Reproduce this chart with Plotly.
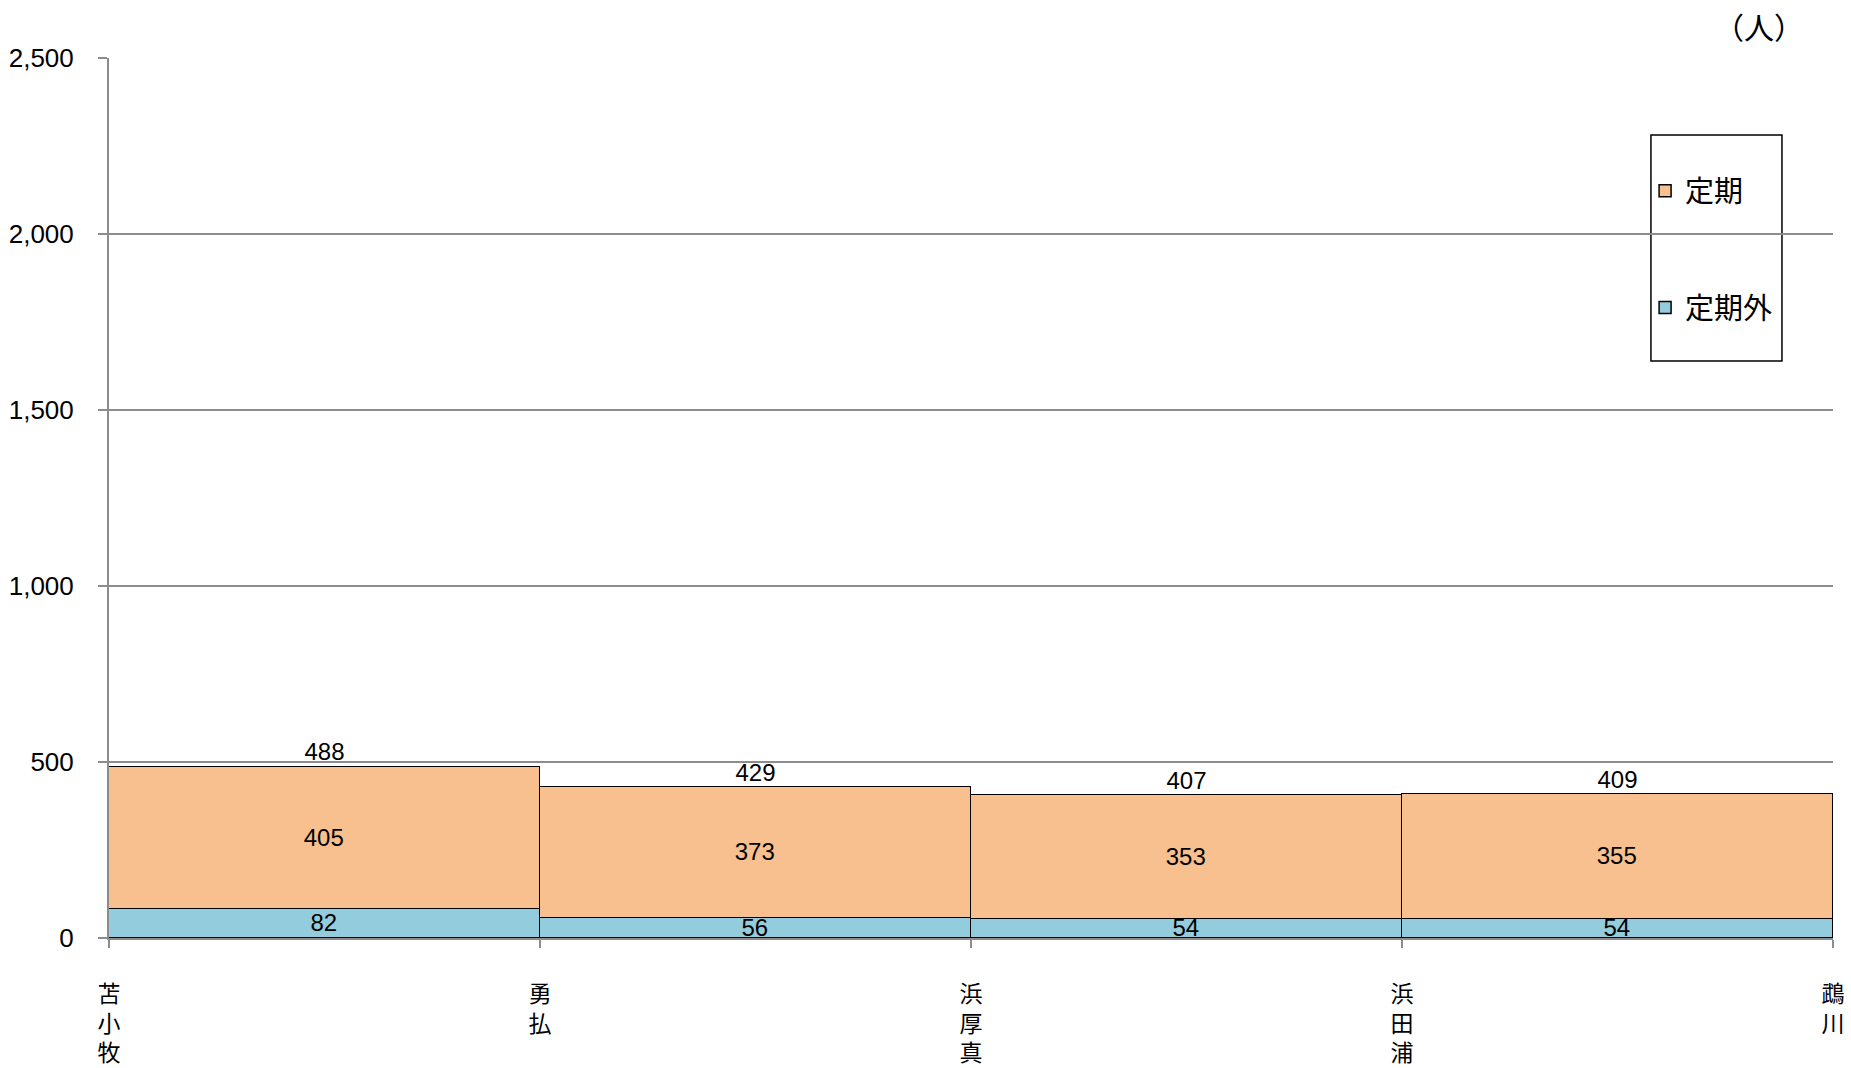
import plotly.graph_objects as go

# ── Data (人) ────────────────────────────────────────────────────────────────
stations = ["苫小牧", "勇払", "浜厚真", "浜田浦", "鵡川"]
teiki_gai = [82, 56, 54, 54]      # 定期外
teiki = [405, 373, 353, 355]      # 定期
totals = [488, 429, 407, 409]

# ── Style ────────────────────────────────────────────────────────────────────
ORANGE = "#F9C08F"
BLUE = "#93CDDD"
GRID = "#8C8C8C"
NUM_FONT = "Liberation Sans, Arial, sans-serif"
TICK_FONT = "Liberation Sans, Arial, sans-serif"
JP_FONT = "Noto Sans CJK JP, sans-serif"

# one bar per section between two stations
mid = [i + 0.5 for i in range(len(teiki))]

fig = go.Figure()
fig.add_trace(go.Bar(
    x=mid, y=teiki_gai, width=1, name="定期外",
    marker=dict(color=BLUE, line=dict(color="black", width=1.5)),
    text=teiki_gai, textposition="inside", insidetextanchor="middle", textangle=0,
    textfont=dict(family=NUM_FONT, size=24, color="black"),
    legendgroup="b", legendrank=2, hoverinfo="y",
))
fig.add_trace(go.Bar(
    x=mid, y=teiki, width=1, name="定期",
    marker=dict(color=ORANGE, line=dict(color="black", width=1.5)),
    text=teiki, textposition="inside", insidetextanchor="middle", textangle=0,
    textfont=dict(family=NUM_FONT, size=24, color="black"),
    legendgroup="a", legendrank=1, hoverinfo="y",
))
fig.add_trace(go.Scatter(
    x=mid, y=totals, mode="text", text=totals, textposition="top center",
    textfont=dict(family=NUM_FONT, size=24, color="black"),
    showlegend=False, hoverinfo="skip", cliponaxis=False,
))

# legend frame
fig.add_shape(type="rect", xref="paper", yref="paper",
              x0=0.8944, x1=0.9704, y0=0.6557, y1=0.9125,
              line=dict(color="black", width=1.5), fillcolor="white", layer="below")

fig.add_annotation(text="（人）", xref="paper", yref="paper", x=0.957, y=1.036,
                   showarrow=False, xanchor="center", yanchor="middle",
                   font=dict(family=JP_FONT, size=30, color="black"))

fig.update_layout(
    width=1851, height=1068,
    margin=dict(l=109, r=18, t=58, b=130, autoexpand=False),
    paper_bgcolor="white", plot_bgcolor="white",
    barmode="stack", bargap=0,
    uniformtext=dict(mode="show", minsize=24),
    font=dict(family=TICK_FONT, size=26, color="black"),
    legend=dict(x=0.891, y=0.878, xanchor="left", yanchor="top",
                traceorder="grouped", tracegroupgap=76,
                bgcolor="rgba(0,0,0,0)",
                font=dict(family=JP_FONT, size=29, color="black")),
)
fig.update_xaxes(
    range=[0, len(teiki)], tickvals=list(range(len(stations))),
    ticktext=["<br>".join(s) for s in stations],
    tickfont=dict(family=JP_FONT, size=23, color="black"), tickangle=0,
    ticks="outside", ticklen=8, tickcolor=GRID, tickwidth=1.5,
    showline=True, linecolor=GRID, linewidth=2, showgrid=False, zeroline=False,
    ticklabelstandoff=26, automargin=False,
)
fig.update_yaxes(
    range=[0, 2500], dtick=500, tickformat=",",
    ticks="outside", ticklen=9, tickcolor=GRID, tickwidth=1.5,
    showline=True, linecolor=GRID, linewidth=2,
    showgrid=True, gridcolor=GRID, gridwidth=1.5, zeroline=False,
    ticklabelstandoff=19, automargin=False,
)

# drop the default body margin so the figure fills the window exactly
fig.write_html("out.html", config={"displayModeBar": False},
               post_script="document.body.style.margin='0';document.body.style.overflow='hidden';")
